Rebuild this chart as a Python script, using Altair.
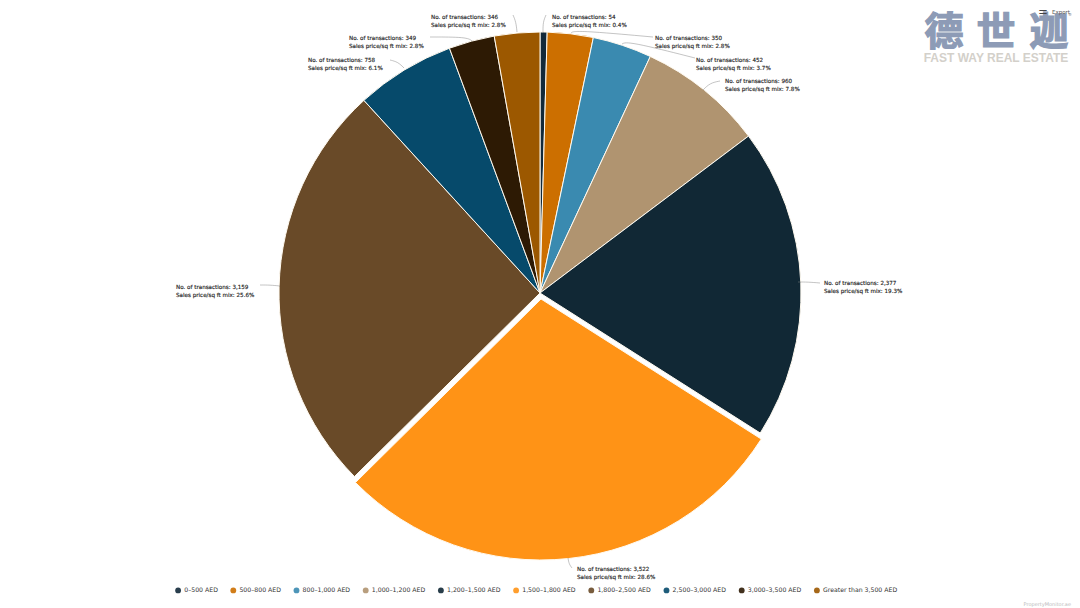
import altair as alt
import pandas as pd

# Chart data
categories = ["0–500 AED", "500–800 AED", "800–1,000 AED", "1,000–1,200 AED", "1,200–1,500 AED",
              "1,500–1,800 AED", "1,800–2,500 AED", "2,500–3,000 AED", "3,000–3,500 AED", "Greater than 3,500 AED"]
transactions = [54, 350, 452, 960, 2377, 3522, 3159, 758, 349, 346]
mix_labels = ["0.4%", "2.8%", "3.7%", "7.8%", "19.3%", "28.6%", "25.6%", "6.1%", "2.8%", "2.8%"]
colors = ["#12293a", "#cc6f00", "#3a8ab0", "#b09470", "#112835", "#ff9316", "#694a28", "#064a6b", "#2d1a04", "#9c5800"]

# Layout, in page pixels (the page margin is removed below)
M = 8
CX, CY, R = 540 - M, 293 - M, 261
EXPLODED = "1,500–1,800 AED"
label_pos = [(552, 17), (655, 38), (696, 60), (725, 81), (824, 283),
             (577, 569), (176, 287), (308, 60), (349, 38), (431, 17)]
leaders = [
    [(546, 15), (543, 22), (543, 32)],
    [(653, 37), (575, 30), (571, 33)],
    [(695, 58), (628, 41), (622, 44)],
    [(720, 81), (710, 83), (703, 90)],
    [(820, 283), (808, 282), (798, 282)],
    [(572, 568), (569, 564), (568, 558)],
    [(260, 285), (270, 285), (280, 286)],
    [(390, 60), (398, 62), (404, 68)],
    [(430, 37), (467, 37), (472, 41)],
    [(513, 15), (516, 22), (517, 32)],
]

pie = pd.DataFrame({
    "category": categories, "count": transactions, "idx": range(len(categories)),
    "cx": [CX + (1 if c == EXPLODED else 0) for c in categories],
    "cy": [CY + (6 if c == EXPLODED else 0) for c in categories],
})

label_rows = []
for (x, y), n, m in zip(label_pos, transactions, mix_labels):
    label_rows.append({"x": x - M, "y": y - M, "t": f"No. of transactions: {n:,}"})
    label_rows.append({"x": x - M, "y": y - M + 8, "t": f"Sales price/sq ft mix: {m}"})
labels_df = pd.DataFrame(label_rows)

leader_df = pd.DataFrame([
    {"k": i, "o": j, "x": x - M, "y": y - M}
    for i, pts in enumerate(leaders) for j, (x, y) in enumerate(pts)
])

X = lambda f: alt.X(f, scale=None, axis=None)
Y = lambda f: alt.Y(f, scale=None, axis=None)

arcs = alt.Chart(pie).mark_arc(radius=R, stroke="#fffaf0", strokeWidth=1).encode(
    theta=alt.Theta("count:Q", stack=True),
    order=alt.Order("idx:Q"),
    x=X("cx:Q"), y=Y("cy:Q"),
    color=alt.Color("category:N", sort=categories,
                    scale=alt.Scale(domain=categories, range=colors),
                    legend=alt.Legend(orient="none", legendX=167, legendY=579, direction="horizontal",
                                      columns=10, title=None, symbolType="circle", symbolSize=34,
                                      symbolStrokeWidth=0, labelFont="DejaVu Sans", labelFontSize=6.2,
                                      labelColor="#333333", columnPadding=12.2, labelOffset=3,
                                      symbolOpacity=0.9, labelLimit=200)),
)

lead = alt.Chart(leader_df).mark_line(color="#888888", strokeWidth=0.5, interpolate="basis").encode(
    x=X("x:Q"), y=Y("y:Q"), detail="k:N", order="o:Q")

texts = alt.Chart(labels_df).mark_text(align="left", baseline="middle", font="DejaVu Sans",
                                       fontSize=5.6, color="#222222", stroke="#222222",
                                       strokeWidth=0.15).encode(
    x=X("x:Q"), y=Y("y:Q"), text="t:N")


def note(txt, x, y, **kw):
    d = pd.DataFrame({"x": [x - M], "y": [y - M], "t": [txt]})
    return alt.Chart(d).mark_text(align=kw.pop("align", "left"), baseline="middle", **kw).encode(
        x=X("x:Q"), y=Y("y:Q"), text="t:N")


logo_style = dict(align="center", font="Noto Sans CJK SC", fontSize=39, fontWeight="bold",
                  color="#8d9bb6", stroke="#8d9bb6", strokeWidth=1.2)
logo_a = note("德", 944, 33, **logo_style)
logo_b = note("世", 996, 33, **logo_style)
logo_c = note("迦", 1049, 33, **logo_style)
logo2 = note("FAST WAY REAL ESTATE", 996, 58, align="center", font="Liberation Sans", fontSize=12,
             fontWeight="bold", color="#d3d0ca")
export = note("Export", 1052, 12, font="DejaVu Sans", fontSize=5.5, color="#555555")
reg = note("®", 1068, 15, font="DejaVu Sans", fontSize=4, color="#777777")
icon = note("☰", 1043, 11, align="center", font="DejaVu Sans", fontSize=10, color="#444444")
foot = note("PropertyMonitor.ae", 1071, 604, align="right", font="DejaVu Sans", fontSize=5, color="#bbbbbb")

chart = alt.layer(arcs, lead, texts, logo_a, logo_b, logo_c, logo2, icon, export, reg, foot).properties(
    width=1064, height=600, padding=0, autosize=alt.AutoSizeParams(type="none"),
).configure_view(stroke=None)

chart.save("out.html", embed_options={"renderer": "svg", "actions": False})
